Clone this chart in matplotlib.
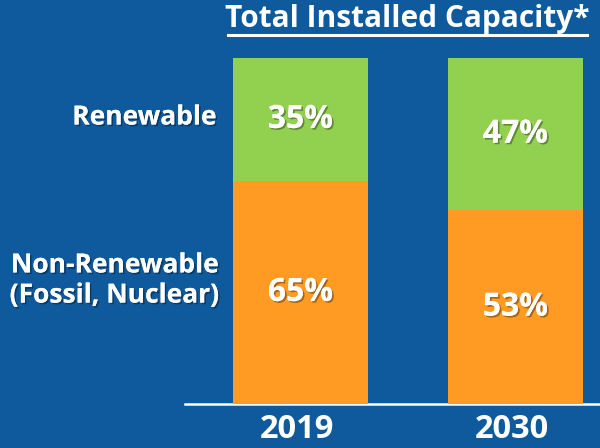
import matplotlib.pyplot as plt
import matplotlib.patheffects as pe

# datos
years = ["2019", "2030"]
nonrenew_share = [64.5, 56.0]   # altura dibujada de la parte naranja
renew_share = [35.5, 44.0]      # altura dibujada de la parte verde
nonrenew_labels = ["65%", "53%"]
renew_labels = ["35%", "47%"]
title = "Total Installed Capacity*"
row_labels = ["Renewable", "Non-Renewable\n(Fossil, Nuclear)"]

bg = "#0E5A9C"
orange = "#FF9A23"
green = "#92D050"
font = "Open Sans"

shadow = [pe.withSimplePatchShadow(offset=(1.2, -1.2), shadow_rgbFace="black", alpha=0.35), pe.Normal()]

fig = plt.figure(figsize=(6, 4.48), dpi=100)
fig.patch.set_facecolor(bg)

# ejes alineados con las barras de la imagen
ax = fig.add_axes([185 / 600, 44 / 448, 415 / 600, 346 / 448])
ax.set_facecolor(bg)
ax.set_xlim(-0.537, 1.393)
ax.set_ylim(0, 100)
for s in ax.spines.values():
    s.set_visible(False)
ax.set_xticks([])
ax.set_yticks([])

x = list(range(len(years)))
w = 0.628
ax.bar(x, nonrenew_share, width=w, color=orange, zorder=2)
ax.bar(x, renew_share, width=w, bottom=nonrenew_share, color=green, zorder=2)
ax.axhline(0, color="white", lw=1.8, zorder=1, clip_on=False)

for i in x:
    ax.text(i, nonrenew_share[i] / 2, nonrenew_labels[i], ha="center", va="center",
            color="white", fontsize=23, fontweight="bold", family=font, path_effects=shadow, zorder=3)
    ax.text(i, nonrenew_share[i] + renew_share[i] / 2, renew_labels[i], ha="center", va="center",
            color="white", fontsize=23, fontweight="bold", family=font, path_effects=shadow, zorder=3)
    ax.text(i - 0.018, -7.3, years[i], ha="center", va="center", color="white", fontsize=23.5,
            fontweight="bold", family=font, clip_on=False)

# etiquetas de las filas
fig.text(216 / 600, 1 - 117 / 448, row_labels[0], ha="right", va="center", color="white",
         fontsize=19, fontweight="bold", family=font, path_effects=shadow)
fig.text(218 / 600, 1 - 280 / 448, row_labels[1], ha="right", va="center", color="white",
         fontsize=19, fontweight="bold", family=font, linespacing=1.15, path_effects=shadow)

# titulo subrayado
t = fig.text(407 / 600, 1 - 19 / 448, title, ha="center", va="center", color="white",
             fontsize=21.5, fontweight="bold", family=font)
fig.add_artist(plt.Line2D([228 / 600, 587 / 600], [1 - 35 / 448, 1 - 35 / 448],
                          color="white", lw=2.2, transform=fig.transFigure))

fig.savefig("out.png", dpi=100, facecolor=bg)
